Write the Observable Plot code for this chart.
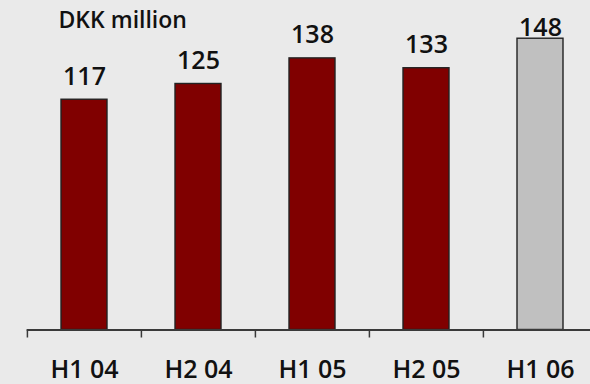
<!DOCTYPE html>
<html>
<head>
<meta charset="utf-8">
<script src="https://cdn.jsdelivr.net/npm/d3@7"></script>
<script src="https://cdn.jsdelivr.net/npm/@observablehq/plot@0.6"></script>
<style>
  html, body { margin: 0; padding: 0; background: #eaeaea; }
  #chart svg { display: block; }
</style>
</head>
<body>
<div id="chart"></div>
<script>
const periods = ["H1 04", "H2 04", "H1 05", "H2 05", "H1 06"];
const values = [117, 125, 138, 133, 148];
const fills = ["#800000", "#800000", "#800000", "#800000", "#c0c0c0"];
const unitLabel = "DKK million";

const data = periods.map((p, i) => ({period: p, value: values[i], fill: fills[i]}));
const lastIdx = data.length - 1;
const font = "'Open Sans', sans-serif";

const width = 590, height = 384;
const marginLeft = 26.7, marginRight = -7.6;
const step = (width - marginRight - marginLeft) / periods.length;
const yMax = 160;
const pxPerUnit = (height - 54.5 - 14.6) / yMax;

const chart = Plot.plot({
  width, height,
  marginLeft, marginRight,
  marginTop: 14.6, marginBottom: 54.5,
  style: {background: "#eaeaea", fontFamily: font, overflow: "visible"},
  x: {domain: periods, padding: 0, axis: null},
  y: {domain: [0, yMax], axis: null},
  marks: [
    Plot.barY(data, {
      x: "period", y: "value", fill: "fill",
      stroke: "#222", strokeWidth: 1.4,
      insetLeft: 34, insetRight: 34
    }),
    Plot.ruleY([0], {stroke: "#3a3a3a", strokeWidth: 2}),
    Plot.ruleX(periods, {
      x: d => d, dx: -step / 2, y1: 0, y2: -8 / pxPerUnit,
      stroke: "#3a3a3a", strokeWidth: 1.5
    }),
    Plot.text(periods, {
      x: d => d, y: 0, dy: 30, lineAnchor: "top", text: d => d,
      fontSize: 25, fontWeight: 600, fill: "#111", fontFamily: font
    }),
    Plot.text(data.filter((d, i) => i !== lastIdx), {
      x: "period", y: "value", text: d => String(d.value),
      dy: -15, lineAnchor: "bottom",
      fontSize: 25, fontWeight: 600, fill: "#111", fontFamily: font
    }),
    Plot.text(data.filter((d, i) => i === lastIdx), {
      x: "period", y: "value", text: d => String(d.value),
      dy: -3, lineAnchor: "bottom",
      fontSize: 25, fontWeight: 600, fill: "#111", fontFamily: font
    }),
    Plot.text([unitLabel], {
      x: () => periods[0], y: () => yMax, dx: -26, dy: -3,
      textAnchor: "start", lineAnchor: "top", text: d => d,
      fontSize: 23, fontWeight: 600, fill: "#111", fontFamily: font
    })
  ]
});
document.getElementById("chart").appendChild(chart);
</script>
</body>
</html>
